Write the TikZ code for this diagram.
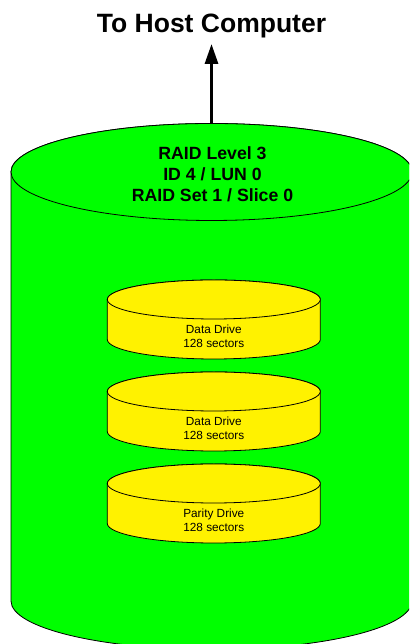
\documentclass[tikz,border=0pt]{standalone}
\usepackage{fontspec}
\setmainfont{Liberation Sans}
\usetikzlibrary{positioning,arrows.meta}
\begin{document}
\begin{tikzpicture}[x=1pt,y=1pt]

  % Definitions
  \tikzstyle{raidset} = [fill=green, draw=black, line width=0.8pt]
  \tikzstyle{drive} = [fill=yellow, draw=black, line width=0.8pt]
  \tikzstyle{drivetext} = [align=center, font=\fontsize{11.8}{14}\selectfont]
  \tikzstyle{raidtext} = [align=center, font=\bfseries\fontsize{17.7}{21}\selectfont]
  \tikzstyle{hosttext} = [font=\bfseries\fontsize{26.5}{30}\selectfont, inner sep=0pt]
  \tikzstyle{arrow} = [line width=3pt, -{Triangle[length=20pt,width=13pt]}]

  \useasboundingbox (0,0) rectangle (409,644);
  \clip (0,0) rectangle (409,644);

  % RAID set cylinder
  \draw [raidset] (11,472) -- (11,43)
    arc [start angle=180, end angle=360, x radius=200.5, y radius=48.5]
    -- (412,472)
    arc [start angle=0, end angle=180, x radius=200.5, y radius=48.5] -- cycle;
  \draw [raidset] (211.5,472) ellipse [x radius=200.5, y radius=48.5];
  \node (raidinfo) [raidtext] at (212.5,469.5) {RAID Level 3\\ID 4 / LUN 0\\RAID Set 1 / Slice 0};

  % Drives
  \foreach \y/\name/\txt in {344.5/data1/Data Drive, 252.5/data2/Data Drive, 160.5/parity/Parity Drive} {
    \draw [drive] (107.3,\y) -- (107.3,\y-40)
      arc [start angle=180, end angle=360, x radius=106.5, y radius=19.5]
      -- (320.3,\y)
      arc [start angle=0, end angle=180, x radius=106.5, y radius=19.5] -- cycle;
    \draw [drive] (213.8,\y) ellipse [x radius=106.5, y radius=19.5];
    \node (\name) [drivetext] at (213.8,\y-36.5) {\txt\\128 sectors};
  }

  % Host link
  \coordinate (raidtop) at (211.5,520.5);
  \coordinate (hostport) at (211.5,600);
  \node (host) [hosttext, above=6pt of hostport] {To Host Computer};
  \draw [arrow] (raidtop) -- (hostport);

\end{tikzpicture}
\end{document}
